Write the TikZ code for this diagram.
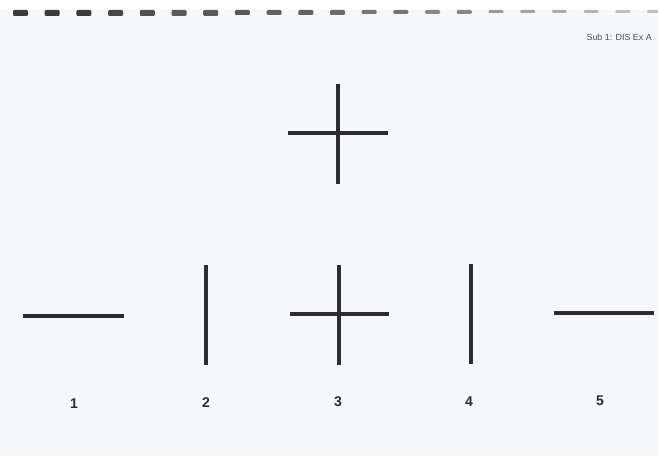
\documentclass[tikz,border=0pt]{standalone}
\usepackage{fontspec}
\setmainfont{Liberation Sans}
\definecolor{paper}{RGB}{245,247,250}
\definecolor{ink}{RGB}{45,45,48}
\definecolor{ring}{RGB}{60,60,66}
\tikzset{
  bar/.style={ink,line width=2.6pt},
  digit/.style={font=\fontsize{12}{14}\selectfont\bfseries,text=ink,inner sep=0pt},
  tag/.style={font=\fontsize{7.6}{9}\selectfont,text=ink!85,inner sep=0pt,anchor=east}
}

\begin{document}
\begin{tikzpicture}[x=0.03cm,y=-0.03cm]
\fill[white] (0,0) rectangle (658,10);
\fill[paper] (0,10) rectangle (658,456);
\useasboundingbox (0,0) rectangle (658,456);
\foreach \k/\h/\c in {0/6/100,1/6/100,2/6/100,3/6/95,4/6/90,5/6/85,6/6/85,7/5/85,8/5/80,9/5/80,10/5/75,11/4/70,12/4/70,13/4/60,14/4/60,15/3/50,16/3/45,17/3/40,18/3/35,19/3/30,20/3/30} {
  \fill[ring!\c!paper,rounded corners=1pt] (20.5+31.7*\k-7.5,10) rectangle (20.5+31.7*\k+7.5,10+\h);
}
\node[tag] (sub) at (652,37) {Sub 1: DIS Ex A};
\draw[bar] (288,133) -- (388,133);
\draw[bar] (338,84) -- (338,184);
\draw[bar] (23,316) -- (124,316);
\draw[bar] (206,265) -- (206,365);
\draw[bar] (290,314) -- (389,314);
\draw[bar] (339,265) -- (339,365);
\draw[bar] (471,264) -- (471,364);
\draw[bar] (554,313) -- (654,313);
\foreach \x/\y/\n in {74/404/1,206/403/2,338/402/3,469/402/4,600/401/5} {
  \node[digit] (lab\n) at (\x,\y) {\n};
}
\end{tikzpicture}
\end{document}
